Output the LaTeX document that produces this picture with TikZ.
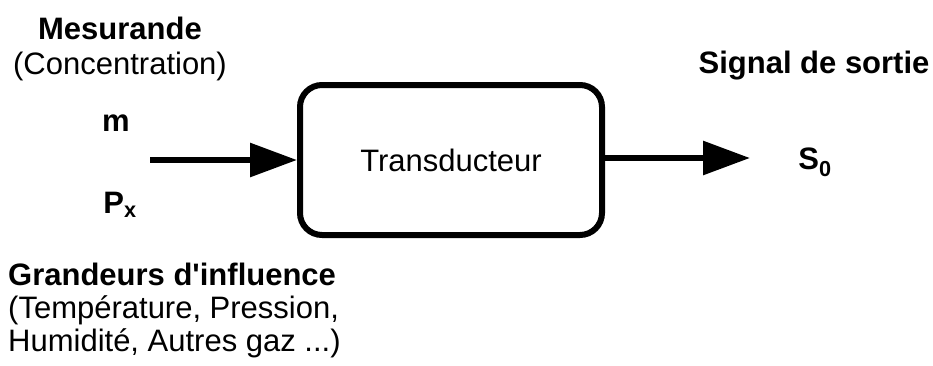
\documentclass[tikz,border=0pt]{standalone}
\usepackage{fontspec}
\setmainfont{Liberation Sans}
\usetikzlibrary{arrows.meta}
\begin{document}
\begin{tikzpicture}[x=1pt,y=-1pt,
  lbl/.style={inner sep=0pt,font=\fontsize{31}{33}\selectfont},
  blbl/.style={lbl,font=\fontsize{31}{33}\selectfont\bfseries},
  boxst/.style={draw,line width=6pt,rounded corners=22pt,minimum width=302pt,minimum height=150pt,inner sep=0pt},
  arr/.style={line width=6pt,-{Triangle[length=47pt,width=33pt]}}]
\useasboundingbox (0,0) rectangle (933,365);
\node[boxst,lbl] (T) at (451,160) {Transducteur};
\coordinate (in) at (150,160);
\coordinate (out) at (750,158);
\draw[arr] (in) -- (T.west);
\draw[arr] (T.east |- out) -- (out);
\node[blbl] (mes) at (120,28) {Mesurande};
\node[lbl] (conc) at (120,66) {(Concentration)};
\node[blbl] (m) at (116,123) {m};
\node[blbl] (px) at (120,205) {P\textsubscript{x}};
\node[blbl] (sig) at (814,66) {Signal de sortie};
\node[blbl] (s0) at (815,162) {S\textsubscript{0}};
\node[lbl,anchor=north west,align=left] (gr) at (8,263) {\textbf{Grandeurs d\textquotesingle influence}\\(Température, Pression,\\Humidité, Autres gaz ...)};
\end{tikzpicture}
\end{document}
